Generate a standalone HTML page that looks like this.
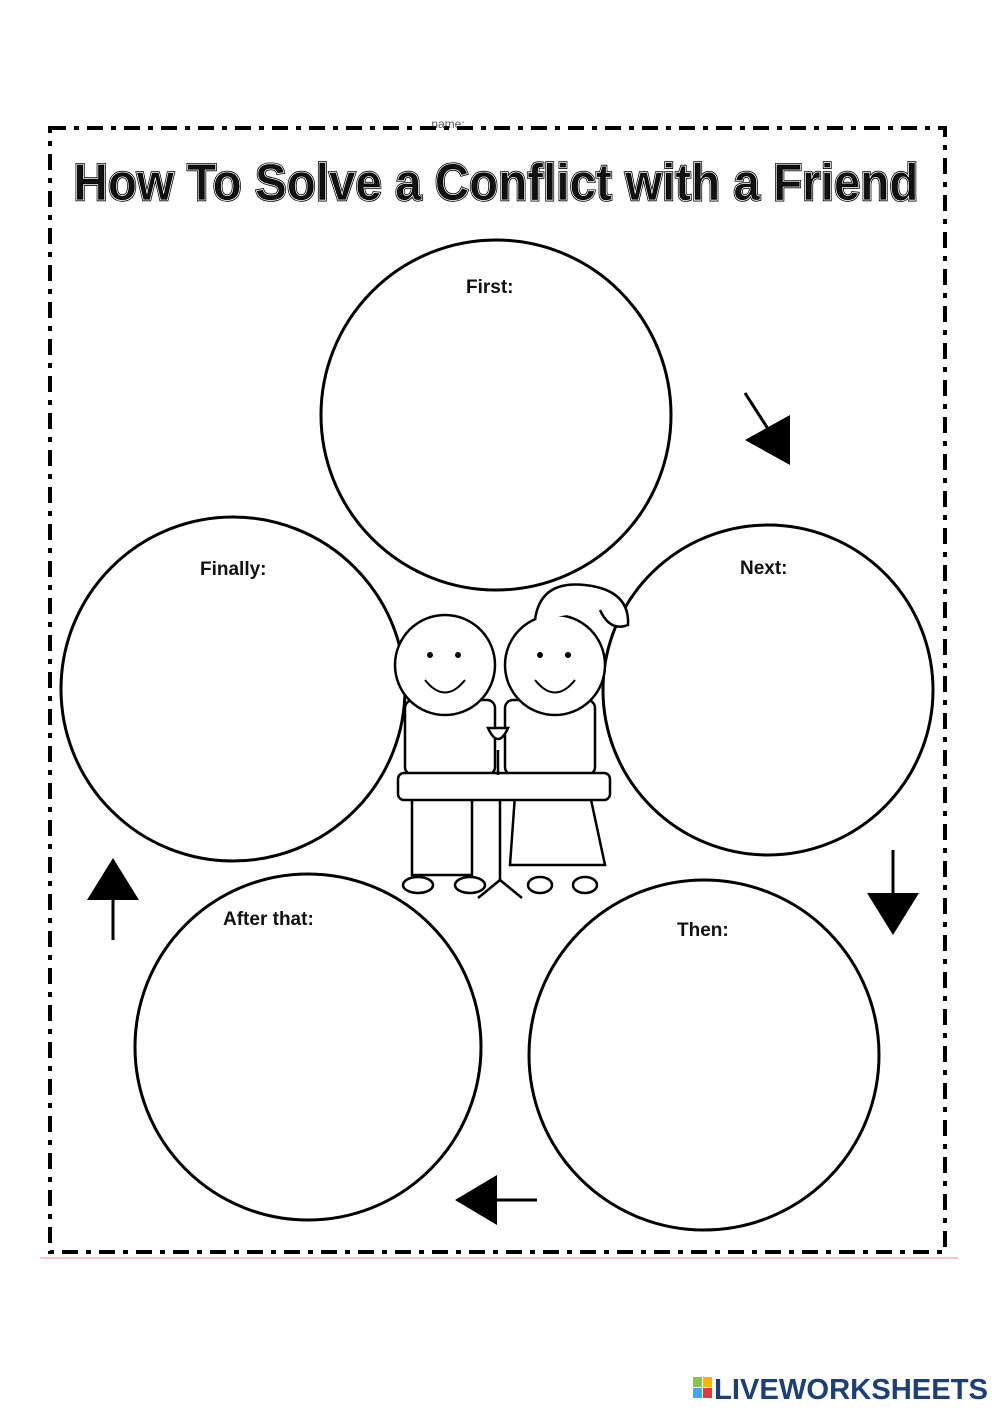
<!DOCTYPE html>
<html><head><style>
html,body{margin:0;padding:0;background:#fff;}
body{width:1000px;height:1414px;position:relative;overflow:hidden;font-family:"Liberation Sans",sans-serif;}
svg{position:absolute;left:0;top:0;}
</style></head><body>
<svg width="1000" height="1414" viewBox="0 0 1000 1414">
<text x="448" y="128" font-size="12" fill="#556" text-anchor="middle">name:</text>
<rect x="50" y="128" width="895" height="1124" fill="none" stroke="#000" stroke-width="4" stroke-dasharray="16 8 5 8"/>
<line x1="40" y1="1258" x2="958" y2="1258" stroke="#f2c8c8" stroke-width="2"/>
<text x="496" y="200" font-size="52" font-weight="bold" text-anchor="middle" fill="#111" stroke="#000" stroke-width="2.5" textLength="845" lengthAdjust="spacingAndGlyphs">How To Solve a Conflict with a Friend</text>
<text x="496" y="200" font-size="52" font-weight="bold" text-anchor="middle" fill="none" stroke="#fff" stroke-width="0.8" textLength="845" lengthAdjust="spacingAndGlyphs">How To Solve a Conflict with a Friend</text>
<g fill="none" stroke="#000" stroke-width="3">
<circle cx="496" cy="415" r="175"/>
<circle cx="233" cy="689" r="172"/>
<circle cx="768" cy="690" r="165"/>
<circle cx="308" cy="1047" r="173"/>
<circle cx="704" cy="1055" r="175"/>
</g>
<g font-size="19" font-weight="bold" fill="#111">
<text x="466" y="293">First:</text>
<text x="200" y="575">Finally:</text>
<text x="740" y="574">Next:</text>
<text x="223" y="925">After that:</text>
<text x="677" y="936">Then:</text>
</g>
<g stroke="#000" stroke-width="3" fill="#000">
<line x1="745" y1="393" x2="770" y2="432"/>
<polygon points="790,415 790,465 745,440" stroke="none"/>
<line x1="893" y1="850" x2="893" y2="895"/>
<polygon points="867,893 919,893 893,935" stroke="none"/>
<line x1="113" y1="898" x2="113" y2="940"/>
<polygon points="87,900 139,900 113,858" stroke="none"/>
<line x1="495" y1="1200" x2="537" y2="1200"/>
<polygon points="497,1175 497,1225 455,1200" stroke="none"/>
</g>
<g fill="#fff" stroke="#000" stroke-width="2.5">
<rect x="405" y="700" width="90" height="75" rx="8"/>
<rect x="505" y="700" width="90" height="75" rx="8"/>
<rect x="412" y="795" width="60" height="80"/>
<path d="M515 795 L590 795 L605 865 L510 865 Z"/>
<circle cx="445" cy="665" r="50"/>
<circle cx="555" cy="665" r="50"/>
<path d="M535 620 Q540 580 585 585 Q630 590 628 625 Q610 632 600 610"/>
<rect x="398" y="773" width="212" height="27" rx="6"/>
<line x1="500" y1="800" x2="500" y2="880"/>
<path d="M500 880 L478 898 M500 880 L522 898"/>
<path d="M488 728 Q498 750 508 728 Z"/>
<line x1="498" y1="750" x2="498" y2="775"/>
<ellipse cx="418" cy="885" rx="15" ry="8"/>
<ellipse cx="470" cy="885" rx="15" ry="8"/>
<ellipse cx="540" cy="885" rx="12" ry="8"/>
<ellipse cx="585" cy="885" rx="12" ry="8"/>
</g>
<g fill="#000">
<circle cx="430" cy="655" r="3"/><circle cx="458" cy="655" r="3"/>
<circle cx="540" cy="655" r="3"/><circle cx="568" cy="655" r="3"/>
</g>
<g fill="none" stroke="#000" stroke-width="2">
<path d="M425 680 Q445 705 465 680"/>
<path d="M535 680 Q555 705 575 680"/>
</g>
<g font-family="Liberation Sans" font-weight="bold">
<rect x="693" y="1377" width="9" height="10" fill="#8bc34a"/>
<rect x="703" y="1377" width="9" height="10" fill="#ffb300"/>
<rect x="693" y="1388" width="9" height="10" fill="#42a5f5"/>
<rect x="703" y="1388" width="9" height="10" fill="#e53935"/>
<text x="714" y="1399" font-size="29" fill="#1d3f73" textLength="274" lengthAdjust="spacingAndGlyphs">LIVEWORKSHEETS</text>
</g>
</svg>
</body></html>
